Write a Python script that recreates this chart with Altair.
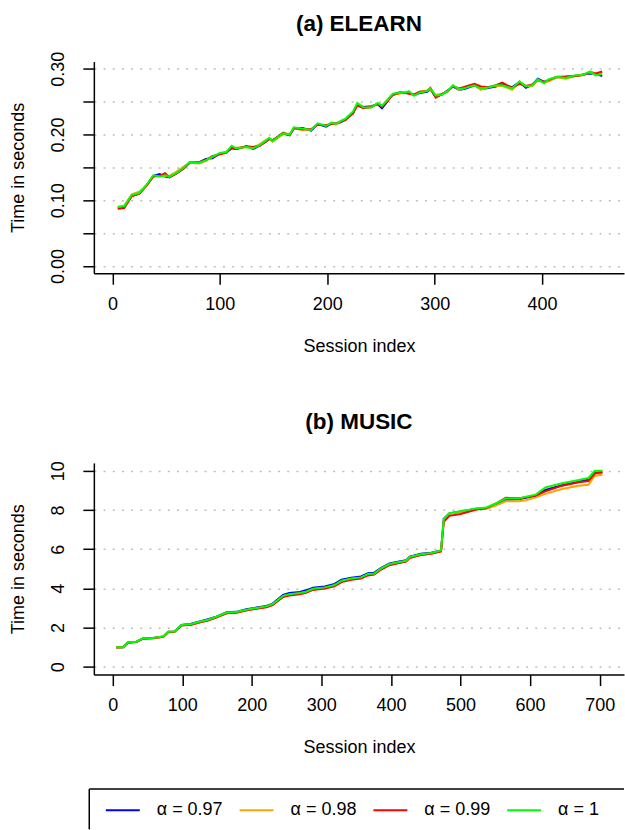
import altair as alt
import pandas as pd

labels = ["α = 0.97", "α = 0.98", "α = 0.99", "α = 1"]
colors = ["#0000FF", "#FFA500", "#FF0000", "#00FF00"]

# ---- (a) ELEARN ----
elearn_x = [5, 11, 18, 25, 32, 38, 44, 49, 53, 59, 66, 72, 81, 87, 93, 100, 106, 111, 115, 125,
            131, 137, 143, 146, 149, 159, 165, 169, 177, 185, 191, 199, 204, 208, 213, 217, 224, 228, 234, 241,
            247, 251, 255, 261, 267, 273, 276, 281, 286, 293, 296, 301, 307, 312, 317, 323, 329, 337, 343, 351,
            357, 363, 372, 379, 385, 391, 396, 402, 406, 414, 422, 431, 437, 445, 450, 456]
elearn_097 = [0.088, 0.090, 0.107, 0.110, 0.123, 0.137, 0.140, 0.136, 0.135, 0.140,
              0.148, 0.157, 0.158, 0.163, 0.164, 0.171, 0.173, 0.179, 0.178, 0.182,
              0.178, 0.183, 0.190, 0.193, 0.191, 0.201, 0.199, 0.209, 0.210, 0.206,
              0.216, 0.212, 0.217, 0.216, 0.219, 0.223, 0.232, 0.245, 0.242, 0.243,
              0.246, 0.240, 0.248, 0.261, 0.264, 0.264, 0.263, 0.260, 0.263, 0.265,
              0.269, 0.257, 0.261, 0.267, 0.273, 0.268, 0.270, 0.275, 0.269, 0.271,
              0.273, 0.276, 0.272, 0.280, 0.271, 0.276, 0.285, 0.280, 0.282, 0.287,
              0.288, 0.289, 0.291, 0.293, 0.292, 0.289]
elearn_098 = [0.089, 0.092, 0.109, 0.113, 0.122, 0.137, 0.137, 0.137, 0.137, 0.143,
              0.151, 0.157, 0.156, 0.160, 0.166, 0.171, 0.174, 0.180, 0.180, 0.181,
              0.180, 0.185, 0.192, 0.194, 0.189, 0.201, 0.201, 0.209, 0.207, 0.208,
              0.216, 0.214, 0.217, 0.215, 0.220, 0.223, 0.233, 0.246, 0.240, 0.242,
              0.247, 0.243, 0.250, 0.261, 0.262, 0.265, 0.264, 0.260, 0.265, 0.267,
              0.269, 0.260, 0.262, 0.265, 0.274, 0.268, 0.272, 0.276, 0.268, 0.273,
              0.274, 0.274, 0.268, 0.280, 0.274, 0.274, 0.283, 0.279, 0.281, 0.287,
              0.285, 0.289, 0.291, 0.294, 0.291, 0.295]
elearn_099 = [0.087, 0.088, 0.106, 0.110, 0.123, 0.136, 0.137, 0.141, 0.135, 0.140,
              0.148, 0.158, 0.158, 0.161, 0.167, 0.170, 0.172, 0.180, 0.178, 0.182,
              0.181, 0.183, 0.189, 0.194, 0.191, 0.203, 0.199, 0.210, 0.208, 0.208,
              0.215, 0.214, 0.216, 0.217, 0.220, 0.222, 0.233, 0.244, 0.240, 0.242,
              0.247, 0.243, 0.250, 0.260, 0.263, 0.263, 0.262, 0.261, 0.265, 0.266,
              0.271, 0.256, 0.262, 0.266, 0.273, 0.270, 0.273, 0.277, 0.273, 0.272,
              0.275, 0.279, 0.271, 0.277, 0.274, 0.276, 0.283, 0.280, 0.283, 0.288,
              0.288, 0.289, 0.290, 0.295, 0.293, 0.296]
elearn_100 = [0.090, 0.091, 0.108, 0.111, 0.124, 0.138, 0.136, 0.138, 0.136, 0.141,
              0.149, 0.158, 0.157, 0.161, 0.166, 0.172, 0.173, 0.183, 0.179, 0.181,
              0.179, 0.184, 0.191, 0.195, 0.190, 0.202, 0.200, 0.211, 0.209, 0.207,
              0.217, 0.213, 0.218, 0.216, 0.221, 0.224, 0.235, 0.248, 0.241, 0.241,
              0.248, 0.244, 0.251, 0.262, 0.263, 0.264, 0.266, 0.259, 0.264, 0.266,
              0.270, 0.259, 0.261, 0.266, 0.275, 0.269, 0.271, 0.275, 0.270, 0.272,
              0.275, 0.275, 0.270, 0.281, 0.273, 0.275, 0.284, 0.278, 0.284, 0.288,
              0.286, 0.290, 0.290, 0.296, 0.290, 0.292]

# ---- (b) MUSIC ----
music_x = [5, 15, 22, 34, 44, 58, 73, 80, 89, 99, 113, 125, 137, 149, 164, 178, 192, 207, 221, 230,
           245, 254, 269, 278, 288, 305, 319, 329, 343, 357, 367, 376, 386, 398, 410, 422, 427, 443, 458, 472,
           476, 484, 500, 523, 537, 551, 565, 584, 594, 608, 622, 646, 670, 684, 693, 704]
music_097 = [0.99, 1.00, 1.24, 1.28, 1.45, 1.47, 1.55, 1.79, 1.80, 2.13, 2.19, 2.31, 2.42, 2.56, 2.78, 2.80,
             2.93, 3.02, 3.10, 3.22, 3.66, 3.76, 3.81, 3.90, 4.03, 4.10, 4.23, 4.44, 4.54, 4.61, 4.77, 4.80,
             5.05, 5.27, 5.36, 5.44, 5.62, 5.76, 5.82, 5.93, 7.55, 7.82, 7.92, 8.06, 8.10, 8.27, 8.52, 8.55,
             8.62, 8.72, 9.02, 9.26, 9.44, 9.55, 9.90, 9.91]
music_098 = [0.99, 1.00, 1.23, 1.27, 1.44, 1.46, 1.54, 1.78, 1.79, 2.12, 2.16, 2.28, 2.38, 2.53, 2.75, 2.77,
             2.89, 2.98, 3.06, 3.18, 3.60, 3.68, 3.74, 3.81, 3.96, 4.02, 4.14, 4.36, 4.48, 4.54, 4.70, 4.74,
             5.00, 5.22, 5.31, 5.39, 5.58, 5.72, 5.78, 5.90, 7.52, 7.80, 7.90, 8.04, 8.06, 8.22, 8.44, 8.44,
             8.50, 8.64, 8.82, 9.07, 9.24, 9.29, 9.75, 9.80]
music_099 = [0.98, 0.99, 1.22, 1.26, 1.43, 1.45, 1.53, 1.76, 1.78, 2.10, 2.14, 2.26, 2.36, 2.51, 2.73, 2.75,
             2.87, 2.96, 3.04, 3.15, 3.56, 3.64, 3.70, 3.77, 3.92, 3.99, 4.10, 4.32, 4.44, 4.50, 4.66, 4.70,
             4.96, 5.18, 5.28, 5.36, 5.55, 5.70, 5.76, 5.88, 7.40, 7.70, 7.79, 8.02, 8.08, 8.33, 8.62, 8.60,
             8.65, 8.74, 8.95, 9.24, 9.41, 9.48, 9.86, 9.95]
music_100 = [0.99, 1.00, 1.24, 1.28, 1.45, 1.47, 1.55, 1.79, 1.80, 2.13, 2.18, 2.30, 2.40, 2.55, 2.77, 2.79,
             2.91, 3.00, 3.08, 3.20, 3.62, 3.70, 3.76, 3.83, 3.98, 4.05, 4.17, 4.39, 4.50, 4.56, 4.73, 4.76,
             5.02, 5.24, 5.33, 5.41, 5.60, 5.74, 5.80, 5.93, 7.55, 7.84, 7.93, 8.08, 8.13, 8.33, 8.58, 8.58,
             8.67, 8.78, 9.15, 9.36, 9.53, 9.63, 10.00, 10.00]

elearn_xticks = [0, 100, 200, 300, 400]
elearn_yticks = [0, 0.05, 0.10, 0.15, 0.20, 0.25, 0.30]
music_xticks = [0, 100, 200, 300, 400, 500, 600, 700]
music_yticks = [0, 2, 4, 6, 8, 10]

FONT = "Liberation Sans"


def long_table(xs, series):
    rows = []
    for lab, vals in zip(labels, series):
        for xi, yi in zip(xs, vals):
            rows.append({"session": xi, "time": yi, "alpha": lab})
    return pd.DataFrame(rows)


def panel(df, title, title_offset, xdom, ydom, xticks, yticks, ylabexpr, legend):
    return alt.Chart(df).mark_line(strokeWidth=2, clip=True).encode(
        x=alt.X("session:Q",
                scale=alt.Scale(domain=xdom, nice=False, zero=False),
                axis=alt.Axis(values=xticks, title="Session index", grid=False,
                              format="d", labelPadding=11, titlePadding=24)),
        y=alt.Y("time:Q",
                scale=alt.Scale(domain=ydom, nice=False, zero=False),
                axis=alt.Axis(values=yticks, title="Time in seconds", grid=True,
                              labelExpr=ylabexpr, labelAngle=270, labelAlign="center",
                              labelBaseline="middle", labelPadding=24, titlePadding=22,
                              labelOverlap=False)),
        color=alt.Color("alpha:N", scale=alt.Scale(domain=labels, range=colors), legend=legend),
    ).properties(
        width=531, height=212,
        title=alt.TitleParams(title, font=FONT, fontSize=22.5, fontWeight="bold",
                              anchor="middle", color="black", offset=title_offset),
    )


legend = alt.Legend(orient="none", legendX=11, legendY=330, direction="horizontal",
                    columns=4, title=None, symbolType="stroke", symbolSize=1156,
                    symbolStrokeWidth=2, labelFont=FONT, labelFontSize=18, labelColor="black",
                    labelOffset=16, columnPadding=13, padding=0)

top = panel(long_table(elearn_x, [elearn_097, elearn_098, elearn_099, elearn_100]),
            "(a) ELEARN", 16, [-17.3, 476.3], [-0.011, 0.311], elearn_xticks, elearn_yticks,
            "round(datum.value * 100) % 10 == 0 ? format(datum.value, '.2f') : ''", None)

bottom_lines = panel(long_table(music_x, [music_097, music_098, music_099, music_100]),
                     "(b) MUSIC", 27, [-27, 735], [-0.4, 10.4], music_xticks, music_yticks,
                     "format(datum.value, 'd')", legend)

box_data = alt.Data(values=[{"k": 1}])
box_top = alt.Chart(box_data).mark_rule(color="black", strokeWidth=1.5).encode(
    x=alt.value(-4.6), x2=alt.value(531), y=alt.value(326.7))
box_left = alt.Chart(box_data).mark_rule(color="black", strokeWidth=1.5).encode(
    x=alt.value(-4.6), y=alt.value(326.7), y2=alt.value(367))

bottom = alt.layer(bottom_lines, box_top, box_left)

chart = alt.vconcat(top, bottom, spacing=56).resolve_legend(color="independent").configure(
    padding={"left": 10, "top": 12, "right": 0, "bottom": 0},
    font=FONT,
).configure_view(strokeWidth=0).configure_axis(
    domainColor="black", domainWidth=1.5, tickColor="black", tickWidth=1.5, tickSize=11,
    labelFont=FONT, labelFontSize=18, labelColor="black",
    titleFont=FONT, titleFontSize=18, titleFontWeight="normal", titleColor="black",
    gridColor="#BEBEBE", gridDash=[2, 7.2], gridWidth=1.5,
)

chart.save("out.html", embed_options={"renderer": "svg", "actions": False})
